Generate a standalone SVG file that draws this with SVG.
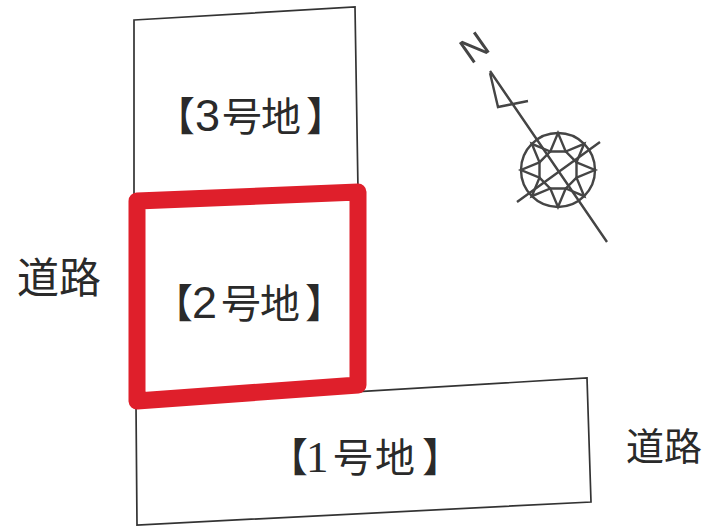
<svg xmlns="http://www.w3.org/2000/svg" width="703" height="527" viewBox="0 0 703 527">
<style>
.t{font-family:"Noto Sans CJK JP","Liberation Sans",sans-serif;font-size:40px;fill:#2a2a2a}
.d{font-family:"Liberation Sans",sans-serif;font-size:45px}
.l{fill:none;stroke:#333;stroke-width:1.7}
.c{fill:none;stroke:#444;stroke-width:2.4}
</style>
<defs><filter id="b" x="-10%" y="-10%" width="120%" height="120%"><feGaussianBlur stdDeviation="0.7"/></filter></defs>
<rect width="703" height="527" fill="#fff"/>
<g id="lot3"><path class="l" d="M134 20L355 7L358 190L134 200Z"/><text class="t" x="155 195 222 261 306" y="131">【<tspan class="d">3</tspan>号地】</text></g>
<g id="lot1"><path class="l" d="M136 405L587 378L591 502L137 525Z"/><text class="t" x="268 306 333 375 422" y="472">【<tspan class="d" style="font-family:'Liberation Serif',serif">1</tspan>号地】</text></g>
<g id="lot2"><path d="M137 201L358 192L358 385L137 401Z" fill="none" stroke="#df1f2b" stroke-width="17" stroke-linejoin="round"/><text class="t" x="153 192 221 260 305" y="318">【<tspan class="d">2</tspan>号地】</text></g>
<g id="road-left"><text class="t" style="font-size:42px" x="17" y="293">道路</text></g>
<g id="road-right"><text class="t" style="font-size:38px" x="626" y="460">道路</text></g>
<g id="north" filter="url(#b)">
<text x="474" y="60" text-anchor="middle" font-family="Liberation Sans,sans-serif" font-size="36" fill="#444" transform="rotate(-35 474 47)">N</text>
<path class="c" d="M490 71L607 242M490 73L498 107L528 101M517 202L600 142"/>
<circle class="c" cx="558" cy="170" r="37" stroke-width="3.5"/>
<path class="c" d="M595 170L576.5 177.7L584.2 196.2L565.7 188.5L558 207L550.3 188.5L531.8 196.2L539.5 177.7L521 170L539.5 162.3L531.8 143.8L550.3 151.5L558 133L565.7 151.5L584.2 143.8L576.5 162.3Z"/>
<path class="c" d="M576.5 177.7L565.7 188.5L550.3 188.5L539.5 177.7L539.5 162.3L550.3 151.5L565.7 151.5L576.5 162.3Z"/>
</g>
</svg>
